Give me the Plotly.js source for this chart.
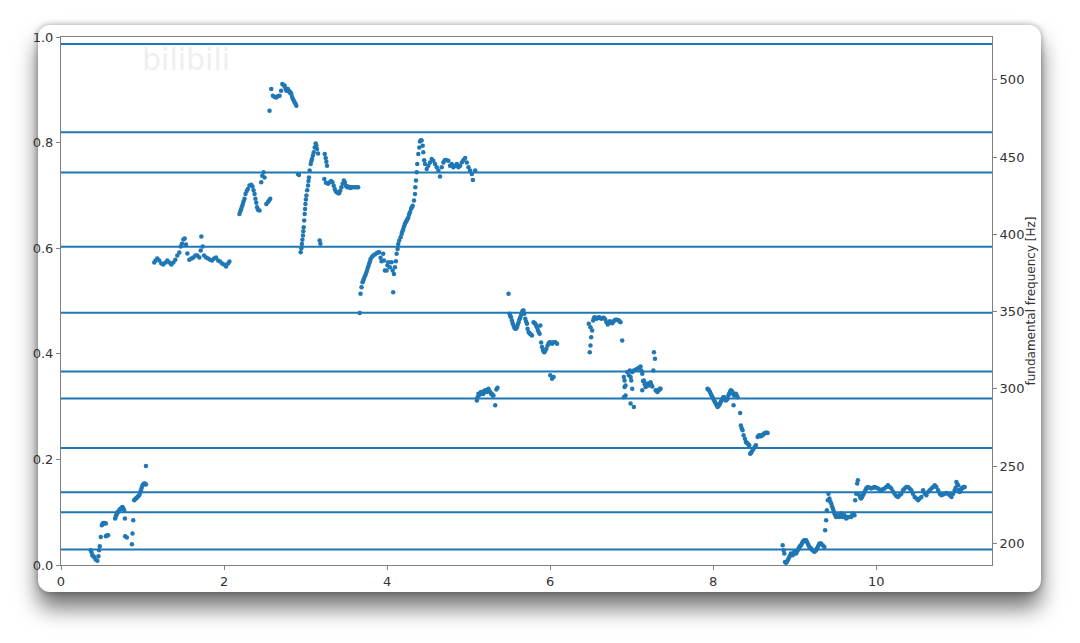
<!DOCTYPE html>
<html>
<head>
<meta charset="utf-8">
<script src="https://cdn.plot.ly/plotly-3.0.1.min.js"></script>
<style>
  html, body { margin: 0; padding: 0; background: #ffffff; width: 1080px; height: 643px; overflow: hidden; }
  #win { position: absolute; left: 38px; top: 25px; width: 1003px; height: 567px; background: #ffffff;
         border-radius: 12px; box-shadow: 0 16px 22px rgba(0,0,0,0.55), 0 0 6px rgba(0,0,0,0.35); }
  #chart { position: absolute; left: 0; top: 0; width: 1080px; height: 643px; }
</style>
</head>
<body>
<div id="win"></div>
<div id="chart"></div>
<script>
// Scale notes drawn as horizontal reference lines (Hz): G3 A3 Bb3 C4 D4 Eb4 F4 G4 A4 Bb4 C5
const noteHz = [196.00, 220.00, 233.08, 261.63, 293.66, 311.13, 349.23, 392.00, 440.00, 466.16, 523.25];

// Fundamental frequency estimates, [time s, f0 Hz], read segment by segment
const segA = [[0.365,195.5],[0.375,194.0],[0.385,192.2],[0.396,191.5],[0.406,191.1],[0.424,189.5],[0.446,188.6],[0.459,191.6],[0.467,195.5],[0.476,198.1],[0.488,204.1],[0.501,211.6],[0.509,212.5],[0.517,213.1],[0.529,213.1],[0.540,212.9],[0.550,212.7],[0.550,204.5],[0.560,205.0],[0.578,205.2],[0.664,216.0],[0.670,217.0],[0.677,218.1],[0.685,219.0],[0.692,220.0],[0.703,220.2],[0.713,221.3],[0.724,222.0],[0.734,222.4],[0.744,223.0],[0.754,223.5],[0.765,222.5],[0.775,221.3],[0.784,216.0],[0.787,204.5],[0.808,203.7],[0.870,199.4],[0.877,206.3],[0.886,214.9],[0.898,227.8],[0.908,228.5],[0.919,228.9],[0.929,229.5],[0.938,229.9],[0.949,230.5],[0.959,231.0],[0.970,232.5],[0.980,234.3],[0.990,236.0],[1.000,237.5],[1.010,238.0],[1.021,238.6],[1.031,238.5],[1.042,238.0],[1.042,250.0]];
const segB = [[1.144,381.8],[1.160,383.0],[1.181,384.3],[1.205,383.0],[1.230,381.1],[1.255,380.5],[1.280,381.8],[1.304,383.0],[1.328,381.8],[1.353,380.5],[1.378,381.8],[1.402,383.6],[1.427,386.3],[1.451,388.2],[1.468,392.1],[1.484,394.0],[1.501,396.6],[1.517,397.3],[1.533,393.4],[1.550,387.6],[1.574,383.6],[1.599,384.3],[1.624,385.0],[1.648,386.3],[1.673,386.3],[1.697,385.0],[1.714,389.5],[1.722,398.6],[1.738,392.1],[1.755,386.3],[1.780,385.0],[1.804,384.3],[1.829,383.6],[1.853,383.0],[1.878,384.3],[1.902,385.0],[1.927,383.0],[1.951,382.4],[1.976,381.1],[2.000,380.5],[2.025,379.2],[2.050,381.1],[2.066,382.4]];
const segC = [[2.189,413.2],[2.200,415.0],[2.210,416.5],[2.220,418.0],[2.230,419.7],[2.240,421.5],[2.251,423.0],[2.263,426.2],[2.278,428.0],[2.292,429.4],[2.312,431.6],[2.333,432.2],[2.349,431.0],[2.362,428.5],[2.374,426.2],[2.385,423.0],[2.395,420.5],[2.405,417.5],[2.415,416.0],[2.435,415.4],[2.456,433.7],[2.469,438.0],[2.485,440.2],[2.497,436.9],[2.518,419.7],[2.537,420.8],[2.552,422.0],[2.567,423.0]];
const segD = [[2.558,480.1],[2.579,494.1],[2.599,489.8],[2.620,489.0],[2.641,488.7],[2.657,489.5],[2.681,489.8],[2.700,493.0],[2.715,497.3],[2.731,496.5],[2.743,496.2],[2.754,494.5],[2.764,493.0],[2.774,494.1],[2.783,494.1],[2.795,493.0],[2.804,491.9],[2.815,492.0],[2.825,490.9],[2.835,489.0],[2.845,487.6],[2.856,486.5],[2.866,485.4],[2.877,484.5],[2.887,483.3]];
const segE = [[2.906,439.1],[2.919,438.5],[2.940,388.4],[2.948,391.0],[2.955,393.8],[2.961,396.5],[2.968,399.2],[2.972,402.0],[2.977,404.6],[2.983,409.0],[2.989,413.2],[2.994,416.5],[2.998,419.7],[3.004,422.5],[3.010,425.1],[3.020,428.5],[3.030,431.6],[3.036,434.5],[3.042,436.9],[3.050,441.3],[3.063,445.6],[3.071,447.5],[3.079,448.8],[3.090,451.0],[3.100,453.1],[3.112,456.3],[3.124,458.9],[3.132,457.5],[3.140,455.3],[3.153,452.4],[3.173,396.0],[3.182,394.0],[3.230,435.9],[3.235,452.1],[3.247,449.5],[3.250,433.5],[3.255,447.0],[3.263,444.5],[3.276,432.7],[3.296,433.7],[3.313,434.5],[3.330,433.7],[3.345,431.5],[3.358,429.4],[3.372,427.8],[3.386,427.2],[3.400,426.6],[3.411,426.6],[3.425,428.3],[3.440,430.5],[3.455,432.7],[3.469,434.8],[3.481,433.7],[3.495,431.5],[3.510,430.5],[3.522,431.0],[3.534,430.5],[3.550,430.0],[3.563,430.5],[3.580,430.5],[3.604,430.5],[3.625,430.5],[3.645,430.5]];
const segF = [[3.665,349.0],[3.674,361.5],[3.686,365.8],[3.699,369.0],[3.707,370.0],[3.715,371.2],[3.727,372.8],[3.739,374.4],[3.750,376.0],[3.760,377.7],[3.770,379.3],[3.780,380.9],[3.790,382.5],[3.797,384.1],[3.812,385.2],[3.829,386.3],[3.850,387.0],[3.871,387.8],[3.887,388.2],[3.903,388.4],[3.920,384.8],[3.932,382.6],[3.952,387.4],[3.962,383.0],[3.973,376.6],[3.994,376.6],[4.004,380.0],[4.014,381.9],[4.034,378.7],[4.055,381.9],[4.068,376.6],[4.075,362.5],[4.084,374.4],[4.096,378.7],[4.108,382.6],[4.117,387.4],[4.129,390.6],[4.137,393.8],[4.149,396.0],[4.166,398.1],[4.178,400.3],[4.188,402.0],[4.198,403.5],[4.209,405.2],[4.219,406.8],[4.230,408.0],[4.240,408.9],[4.250,410.0],[4.260,411.0],[4.270,412.8],[4.280,414.3],[4.293,416.5],[4.304,417.5],[4.314,418.6],[4.330,421.9],[4.342,426.2],[4.346,430.5],[4.354,434.8],[4.363,440.2],[4.370,445.6],[4.383,452.1],[4.395,456.3],[4.403,460.2],[4.414,461.0],[4.424,460.7],[4.437,457.4],[4.444,453.1],[4.455,448.0],[4.465,445.6],[4.486,442.4],[4.506,444.5],[4.526,446.6],[4.547,448.8],[4.567,447.7],[4.588,445.6],[4.609,443.4],[4.629,441.3],[4.649,437.4],[4.670,443.4],[4.690,446.6],[4.706,448.0],[4.723,448.2],[4.751,447.7],[4.772,444.5],[4.793,445.6],[4.813,443.4],[4.834,444.5],[4.855,445.6],[4.875,443.4],[4.895,444.5],[4.916,446.6],[4.936,448.2],[4.957,449.5],[4.978,446.6],[4.998,443.4],[5.018,441.3],[5.039,439.1],[5.052,435.2],[5.080,441.3]];
const segG = [[5.101,292.5],[5.110,294.6],[5.120,296.8],[5.130,296.0],[5.141,296.8],[5.152,297.9],[5.162,297.9],[5.172,296.8],[5.182,296.8],[5.192,298.5],[5.203,299.0],[5.213,298.5],[5.224,297.9],[5.234,299.0],[5.243,300.1],[5.254,298.5],[5.264,297.9],[5.275,296.8],[5.285,296.8],[5.295,295.7],[5.305,295.7],[5.326,289.3],[5.340,299.5],[5.354,300.7]];
const segH = [[5.490,361.5],[5.502,348.6],[5.510,347.5],[5.519,346.4],[5.531,344.2],[5.541,342.5],[5.551,341.0],[5.561,339.5],[5.572,338.9],[5.582,339.0],[5.593,339.9],[5.603,341.5],[5.613,343.1],[5.624,345.0],[5.634,346.4],[5.644,348.0],[5.654,349.6],[5.664,350.5],[5.674,350.7],[5.683,348.6],[5.695,345.3],[5.705,343.5],[5.716,342.1],[5.723,338.9],[5.735,336.7],[5.746,336.0],[5.756,335.6],[5.767,335.0],[5.777,334.5],[5.797,343.1],[5.808,342.5],[5.818,342.1],[5.829,341.0],[5.839,339.9],[5.849,338.0],[5.859,336.7],[5.871,335.6],[5.880,341.0],[5.890,330.0],[5.900,327.0],[5.913,324.8],[5.921,324.2],[5.929,323.7],[5.941,324.8],[5.953,325.9],[5.969,328.1],[5.982,329.5],[5.994,330.2],[6.002,308.7],[6.010,330.0],[6.023,306.5],[6.023,329.2],[6.043,307.6],[6.043,330.2],[6.064,330.2],[6.085,329.2]];
const segI = [[6.474,342.1],[6.486,323.7],[6.495,328.1],[6.495,339.9],[6.503,333.4],[6.515,337.8],[6.528,344.2],[6.536,345.5],[6.544,346.4],[6.556,346.0],[6.568,345.3],[6.582,345.8],[6.597,346.4],[6.612,346.0],[6.626,345.3],[6.642,345.8],[6.658,346.0],[6.675,345.0],[6.691,343.1],[6.707,341.6],[6.720,342.8],[6.732,343.8],[6.746,343.0],[6.761,342.5],[6.776,343.5],[6.790,344.2],[6.802,344.7],[6.814,344.7],[6.828,344.5],[6.843,344.2],[6.853,343.5],[6.863,343.1],[6.884,331.3]];
const segJ = [[6.904,307.6],[6.904,294.6],[6.913,305.4],[6.913,301.1],[6.925,302.2],[6.925,295.7],[6.946,310.8],[6.966,308.7],[6.978,311.9],[6.987,307.6],[6.987,290.4],[6.995,305.4],[7.007,310.8],[7.007,300.1],[7.027,311.9],[7.027,288.2],[7.048,312.3],[7.069,313.0],[7.089,313.6],[7.109,314.5],[7.118,311.9],[7.130,309.8],[7.130,299.0],[7.140,305.0],[7.150,305.4],[7.160,303.0],[7.171,301.1],[7.181,302.0],[7.192,303.3],[7.202,303.5],[7.212,302.2],[7.222,303.0],[7.232,304.3],[7.243,302.5],[7.253,301.5],[7.266,311.9],[7.273,323.7],[7.286,319.5],[7.294,299.0],[7.305,298.5],[7.315,297.9],[7.325,299.0],[7.335,299.0],[7.345,300.0],[7.355,300.1]];
const segK = [[7.930,300.1],[7.940,299.5],[7.950,299.0],[7.960,298.0],[7.970,296.8],[7.981,295.7],[7.991,294.6],[8.001,293.5],[8.011,292.5],[8.022,291.4],[8.032,290.4],[8.042,289.3],[8.053,288.2],[8.062,288.8],[8.072,289.3],[8.083,290.4],[8.093,291.4],[8.104,292.5],[8.114,293.6],[8.124,294.6],[8.134,294.6],[8.145,293.6],[8.155,292.5],[8.166,293.0],[8.176,293.6],[8.186,295.7],[8.195,296.8],[8.206,297.9],[8.216,299.0],[8.226,298.5],[8.237,297.9],[8.247,296.5],[8.250,289.3],[8.257,295.7],[8.268,296.0],[8.278,296.8],[8.289,295.7],[8.299,294.6],[8.331,284.3],[8.339,276.3],[8.350,274.5],[8.360,273.1],[8.373,269.9],[8.389,267.7],[8.401,265.5],[8.412,265.0],[8.422,264.5],[8.432,264.0],[8.442,263.4],[8.454,258.0],[8.463,258.5],[8.471,259.1],[8.483,260.2],[8.496,261.3],[8.512,262.3],[8.524,263.4],[8.545,268.8],[8.555,269.5],[8.565,269.9],[8.575,269.5],[8.585,269.2],[8.596,269.9],[8.606,269.9],[8.616,270.5],[8.626,271.0],[8.637,271.3],[8.647,271.6],[8.658,271.5],[8.668,271.3]];
const segL = [[8.852,198.7],[8.865,195.5],[8.872,193.3],[8.881,187.9],[8.893,187.3],[8.904,188.0],[8.914,189.0],[8.924,190.0],[8.934,191.1],[8.944,192.0],[8.954,193.3],[8.965,193.0],[8.975,192.2],[8.985,193.0],[8.995,194.4],[9.006,194.0],[9.016,193.3],[9.026,194.5],[9.037,195.5],[9.047,196.5],[9.057,197.6],[9.067,198.2],[9.077,198.7],[9.088,199.8],[9.098,200.8],[9.108,201.5],[9.118,201.9],[9.129,202.0],[9.139,201.9],[9.149,201.0],[9.160,199.8],[9.170,198.7],[9.180,197.6],[9.190,197.0],[9.200,196.6],[9.210,196.0],[9.221,195.5],[9.231,195.0],[9.241,194.4],[9.251,195.0],[9.262,195.5],[9.272,196.5],[9.283,197.6],[9.293,198.7],[9.303,199.8],[9.323,199.8],[9.344,198.7],[9.364,197.6],[9.373,208.4],[9.385,214.9],[9.394,221.3],[9.406,227.8],[9.414,232.1],[9.426,228.9],[9.436,227.0],[9.447,225.7],[9.458,224.0],[9.468,222.4],[9.478,220.8],[9.487,219.2],[9.498,218.0],[9.508,217.0],[9.518,217.5],[9.529,218.1],[9.539,217.5],[9.549,217.0],[9.559,218.0],[9.569,219.2],[9.580,218.0],[9.590,217.0],[9.600,217.5],[9.610,218.1],[9.620,217.0],[9.631,216.0],[9.641,216.5],[9.652,217.0],[9.672,217.0],[9.692,217.0],[9.703,218.0],[9.713,219.2],[9.723,218.5],[9.733,218.1],[9.742,227.8],[9.754,232.1],[9.766,238.6],[9.775,240.7]];
const segM = [[9.795,231.0],[9.805,229.5],[9.815,228.9],[9.826,230.0],[9.836,231.0],[9.846,232.1],[9.856,233.2],[9.867,234.3],[9.877,235.4],[9.888,236.0],[9.898,236.4],[9.918,236.0],[9.938,235.4],[9.959,236.0],[9.979,236.4],[10.000,236.0],[10.021,235.4],[10.041,234.8],[10.061,234.3],[10.082,235.0],[10.102,235.4],[10.123,236.4],[10.144,237.5],[10.164,236.4],[10.185,235.4],[10.205,233.5],[10.225,232.1],[10.246,230.5],[10.267,229.9],[10.287,231.0],[10.308,232.1],[10.328,234.3],[10.348,235.4],[10.369,236.4],[10.390,236.4],[10.410,235.4],[10.431,234.3],[10.451,232.1],[10.471,229.9],[10.492,228.9],[10.513,227.8],[10.533,228.9],[10.554,229.9],[10.575,234.3],[10.594,232.1],[10.615,231.0],[10.636,233.2],[10.656,234.3],[10.677,235.4],[10.697,236.4],[10.717,237.5],[10.738,236.4],[10.759,234.3],[10.779,232.1],[10.800,231.0],[10.820,231.5],[10.840,232.1],[10.861,232.5],[10.882,232.1],[10.902,231.0],[10.923,229.9],[10.943,232.1],[10.963,234.3],[10.974,236.0],[10.984,239.6],[10.995,238.0],[11.005,237.5],[11.015,234.5],[11.025,233.2],[11.036,234.0],[11.046,235.4],[11.056,236.0],[11.066,236.0],[11.076,236.4],[11.086,236.4]];

const segments = [segA, segB, segC, segD, segE, segF, segG, segH, segI, segJ, segK, segL, segM];
const timeS = [], f0Hz = [];
segments.forEach(s => s.forEach(p => { timeS.push(p[0]); f0Hz.push(p[1]); }));

const xRange = [0, 11.42];
const leftRange = [0, 1];
const rightRange = [185.9, 527.8];
const BLUE = '#1f77b4';
const AXC = '#808080';
const TXT = '#333333';

const traces = [
  { x: [0, 1], y: [0, 1], xaxis: 'x', yaxis: 'y', mode: 'markers', marker: {opacity: 0}, hoverinfo: 'skip', showlegend: false },
  { x: timeS, y: f0Hz, xaxis: 'x', yaxis: 'y2', mode: 'markers', type: 'scatter',
    marker: { color: BLUE, size: 4.5, line: {width: 0} }, showlegend: false }
];

const shapes = noteHz.map(f => ({
  type: 'line', xref: 'paper', x0: 0, x1: 1, yref: 'y2', y0: f, y1: f,
  line: { color: BLUE, width: 2 }
}));

const tickFont = { family: 'DejaVu Sans, sans-serif', size: 13, color: TXT };

const layout = {
  width: 1080, height: 643,
  margin: { l: 61, r: 88, t: 37, b: 78, pad: 0 },
  paper_bgcolor: 'rgba(0,0,0,0)', plot_bgcolor: '#ffffff',
  showlegend: false,
  xaxis: { range: xRange, tickvals: [0, 2, 4, 6, 8, 10], ticktext: ['0','2','4','6','8','10'],
           showgrid: false, zeroline: false, showline: true, mirror: true, linecolor: AXC, linewidth: 1,
           ticks: 'outside', ticklen: 4, tickcolor: AXC, tickfont: tickFont },
  yaxis: { range: leftRange, tickvals: [0, 0.2, 0.4, 0.6, 0.8, 1.0], ticktext: ['0.0','0.2','0.4','0.6','0.8','1.0'],
           showgrid: false, zeroline: false, showline: true, mirror: false, linecolor: AXC, linewidth: 1,
           ticks: 'outside', ticklen: 4, tickcolor: AXC, tickfont: tickFont },
  yaxis2: { range: rightRange, overlaying: 'y', side: 'right', anchor: 'x',
            tickvals: [200, 250, 300, 350, 400, 450, 500], ticktext: ['200','250','300','350','400','450','500'],
            showgrid: false, zeroline: false, showline: true, linecolor: AXC, linewidth: 1,
            ticks: 'outside', ticklen: 4, tickcolor: AXC, tickfont: tickFont,
            title: { text: 'fundamental frequency [Hz]', font: { family: 'DejaVu Sans, sans-serif', size: 12, color: TXT }, standoff: 2 } },
  shapes: shapes,
  annotations: [
    { text: 'bilibili', xref: 'paper', yref: 'paper', x: 0.085, y: 0.995, xanchor: 'left', yanchor: 'top',
      showarrow: false, font: { family: 'DejaVu Sans, sans-serif', size: 30, color: '#efefef' } }
  ]
};

Plotly.newPlot('chart', traces, layout, { staticPlot: true, displayModeBar: false });
</script>
</body>
</html>
